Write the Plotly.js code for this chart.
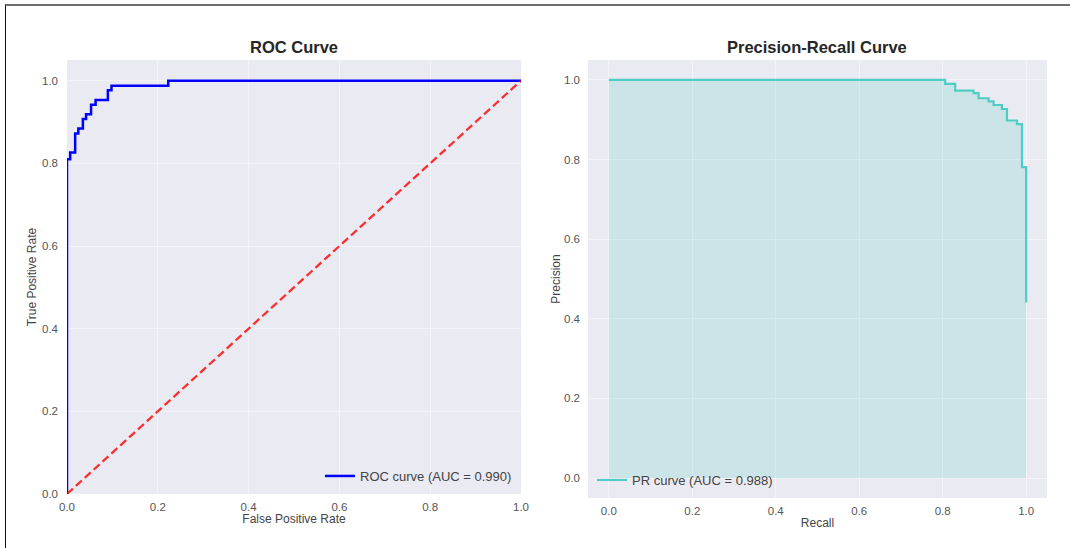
<!DOCTYPE html>
<html>
<head>
<meta charset="utf-8">
<script src="https://cdn.plot.ly/plotly-3.0.1.min.js"></script>
<style>
  html, body { margin: 0; padding: 0; background: #fff; }
  #wrap { position: relative; width: 1070px; height: 548px; }
  #chart { width: 1070px; height: 548px; }
  #frame { position: absolute; left: 5px; top: 4px; right: 0; bottom: 0;
           border-top: 2px solid #6e6e6e; border-left: 1px solid #111; pointer-events: none; }
</style>
</head>
<body>
<div id="wrap">
  <div id="chart"></div>
  <div id="frame"></div>
</div>
<script>
// ROC curve data (step points)
const rocFpr = [0, 0, 0.007, 0.018, 0.025, 0.035, 0.042, 0.053, 0.063, 0.09, 0.098, 0.223, 1.0];
const rocTpr = [0, 0.81, 0.826, 0.872, 0.884, 0.907, 0.919, 0.942, 0.953, 0.977, 0.988, 1.0, 1.0];
const diagX = [0, 1];
const diagY = [0, 1];
// Precision-Recall curve data (step points)
const prRecall = [0, 0.806, 0.830, 0.874, 0.886, 0.910, 0.922, 0.942, 0.954, 0.978, 0.990, 1.0];
const prPrecision = [1.0, 0.990, 0.973, 0.967, 0.954, 0.946, 0.937, 0.927, 0.898, 0.889, 0.781, 0.441];
const rocLabel = 'ROC curve (AUC = 0.990)';
const prLabel = 'PR curve (AUC = 0.988)';
const tickVals = [0, 0.2, 0.4, 0.6, 0.8, 1.0];
const tickText = ['0.0', '0.2', '0.4', '0.6', '0.8', '1.0'];

const FONT = 'Liberation Sans, Arial, sans-serif';
const W = 1070, H = 548;
const px = v => v / W;
const py = v => (H - v) / H;

const traces = [
  { x: rocFpr, y: rocTpr, type: 'scatter', mode: 'lines', line: { shape: 'hv', color: '#0000ff', width: 2.5 },
    name: rocLabel, xaxis: 'x', yaxis: 'y', legend: 'legend', hoverinfo: 'skip' },
  { x: diagX, y: diagY, type: 'scatter', mode: 'lines', line: { color: 'rgba(255,0,0,0.8)', width: 2.3, dash: '8px,4px' },
    showlegend: false, xaxis: 'x', yaxis: 'y', hoverinfo: 'skip' },
  { x: prRecall, y: prPrecision, type: 'scatter', mode: 'lines', line: { shape: 'hv', width: 0, color: 'rgba(0,0,0,0)' },
    fill: 'tozeroy', fillcolor: 'rgba(78,205,196,0.2)', showlegend: false, xaxis: 'x2', yaxis: 'y2', hoverinfo: 'skip' },
  { x: prRecall, y: prPrecision, type: 'scatter', mode: 'lines', line: { shape: 'hv', color: '#4ecdc4', width: 2.2 },
    name: prLabel, xaxis: 'x2', yaxis: 'y2', legend: 'legend2', hoverinfo: 'skip' }
];

const axBase = {
  showgrid: true, gridcolor: '#f4f4f8', gridwidth: 1, zeroline: false, showline: false,
  ticks: '', tickvals: tickVals, ticktext: tickText,
  tickfont: { family: FONT, size: 11.5, color: '#555555' }
};
const titleFont = { family: FONT, size: 12, color: '#444444' };

const layout = {
  width: W, height: H,
  margin: { l: 0, r: 0, t: 0, b: 0 },
  paper_bgcolor: '#ffffff',
  plot_bgcolor: '#eaeaf2',
  font: { family: FONT },
  xaxis: Object.assign({}, axBase, { domain: [px(67), px(521)], range: [0, 1], anchor: 'y',
    ticklabelstandoff: 4, title: { text: 'False Positive Rate', font: titleFont, standoff: 3 } }),
  yaxis: Object.assign({}, axBase, { domain: [py(494), py(60)], range: [0, 1.05], anchor: 'x',
    ticklabelstandoff: 8, title: { text: 'True Positive Rate', font: titleFont, standoff: 2 } }),
  xaxis2: Object.assign({}, axBase, { domain: [px(588), px(1047)], range: [-0.05, 1.05], anchor: 'y2',
    ticklabelstandoff: 4, title: { text: 'Recall', font: titleFont, standoff: 3 } }),
  yaxis2: Object.assign({}, axBase, { domain: [py(498), py(60)], range: [-0.05, 1.05], anchor: 'x2',
    ticklabelstandoff: 7, title: { text: 'Precision', font: titleFont, standoff: 0 } }),
  legend: { x: px(320), y: py(476), xanchor: 'left', yanchor: 'middle', bgcolor: 'rgba(0,0,0,0)',
    font: { family: FONT, size: 13, color: '#444444' } },
  legend2: { x: px(592), y: py(480), xanchor: 'left', yanchor: 'middle', bgcolor: 'rgba(0,0,0,0)',
    font: { family: FONT, size: 13, color: '#444444' } },
  annotations: [
    { text: '<b>ROC Curve</b>', xref: 'paper', yref: 'paper', x: px(294), y: py(47), xanchor: 'center', yanchor: 'middle',
      showarrow: false, font: { family: FONT, size: 16.5, color: '#262626' } },
    { text: '<b>Precision-Recall Curve</b>', xref: 'paper', yref: 'paper', x: px(817), y: py(47), xanchor: 'center', yanchor: 'middle',
      showarrow: false, font: { family: FONT, size: 16.5, color: '#262626' } }
  ],
  showlegend: true
};

Plotly.newPlot('chart', traces, layout, { staticPlot: true, displayModeBar: false });
</script>
</body>
</html>
